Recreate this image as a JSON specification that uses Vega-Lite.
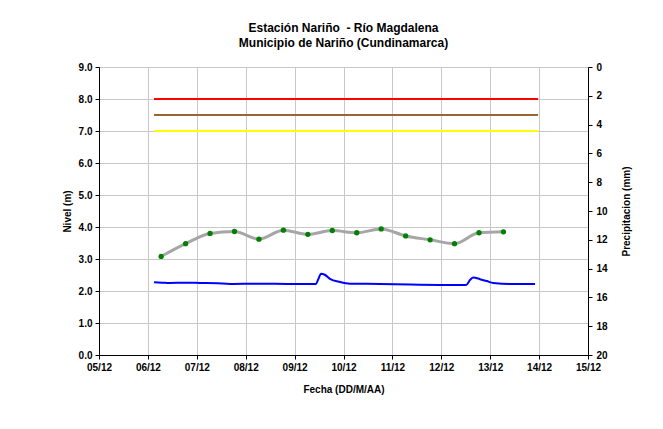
{
  "$schema": "https://vega.github.io/schema/vega-lite/v6.json",
  "width": 489,
  "height": 288,
  "autosize": {"type": "none"},
  "padding": {"left": 99, "top": 67, "right": 75, "bottom": 74},
  "background": "white",
  "config": {
    "view": {"stroke": null},
    "font": "Liberation Sans",
    "axis": {
      "labelFont": "Liberation Sans",
      "labelFontSize": 10,
      "labelFontWeight": "bold",
      "labelColor": "black",
      "titleFont": "Liberation Sans",
      "titleFontSize": 10,
      "titleFontWeight": "bold",
      "titleColor": "black",
      "domainColor": "black",
      "tickColor": "black",
      "tickSize": 4,
      "gridColor": "#c8c8c8",
      "gridWidth": 1
    }
  },
  "title": {
    "text": ["Estación Nariño\u00a0 - Río Magdalena", "Municipio de Nariño (Cundinamarca)"],
    "font": "Liberation Sans",
    "fontSize": 12,
    "fontWeight": "bold",
    "color": "black",
    "anchor": "middle",
    "lineHeight": 15,
    "offset": 12
  },
  "datasets": {
    "umbrales": [
      {"fecha": "2012-12-06T03:00:00", "fin": "2012-12-13T23:30:00", "nivel": 8.0, "tipo": "Roja"},
      {"fecha": "2012-12-06T03:00:00", "fin": "2012-12-13T23:30:00", "nivel": 7.5, "tipo": "Naranja"},
      {"fecha": "2012-12-06T03:00:00", "fin": "2012-12-13T23:30:00", "nivel": 7.0, "tipo": "Amarilla"}
    ],
    "lecturas": [
      {"fecha": "2012-12-06T06:30:00", "nivel": 3.08},
      {"fecha": "2012-12-06T18:30:00", "nivel": 3.48},
      {"fecha": "2012-12-07T06:30:00", "nivel": 3.80},
      {"fecha": "2012-12-07T18:30:00", "nivel": 3.86},
      {"fecha": "2012-12-08T06:30:00", "nivel": 3.62},
      {"fecha": "2012-12-08T18:30:00", "nivel": 3.90},
      {"fecha": "2012-12-09T06:30:00", "nivel": 3.77},
      {"fecha": "2012-12-09T18:30:00", "nivel": 3.89},
      {"fecha": "2012-12-10T06:30:00", "nivel": 3.82},
      {"fecha": "2012-12-10T18:30:00", "nivel": 3.94},
      {"fecha": "2012-12-11T06:30:00", "nivel": 3.72},
      {"fecha": "2012-12-11T18:30:00", "nivel": 3.60},
      {"fecha": "2012-12-12T06:30:00", "nivel": 3.48},
      {"fecha": "2012-12-12T18:30:00", "nivel": 3.82},
      {"fecha": "2012-12-13T06:30:00", "nivel": 3.85}
    ],
    "sensor": [
      {"fecha": "2012-12-06T03:00:00", "nivel": 2.27},
      {"fecha": "2012-12-06T07:00:00", "nivel": 2.26},
      {"fecha": "2012-12-06T10:50:00", "nivel": 2.25},
      {"fecha": "2012-12-06T18:00:00", "nivel": 2.26},
      {"fecha": "2012-12-07T01:40:00", "nivel": 2.25},
      {"fecha": "2012-12-07T10:00:00", "nivel": 2.24},
      {"fecha": "2012-12-07T16:20:00", "nivel": 2.22},
      {"fecha": "2012-12-08T07:00:00", "nivel": 2.23},
      {"fecha": "2012-12-08T21:50:00", "nivel": 2.22},
      {"fecha": "2012-12-09T10:30:00", "nivel": 2.22},
      {"fecha": "2012-12-09T11:30:00", "nivel": 2.35},
      {"fecha": "2012-12-09T13:00:00", "nivel": 2.54},
      {"fecha": "2012-12-09T15:00:00", "nivel": 2.50},
      {"fecha": "2012-12-09T17:20:00", "nivel": 2.38},
      {"fecha": "2012-12-09T22:20:00", "nivel": 2.28},
      {"fecha": "2012-12-10T03:10:00", "nivel": 2.23},
      {"fecha": "2012-12-10T18:00:00", "nivel": 2.22},
      {"fecha": "2012-12-11T08:40:00", "nivel": 2.20},
      {"fecha": "2012-12-11T23:20:00", "nivel": 2.19},
      {"fecha": "2012-12-12T12:10:00", "nivel": 2.19},
      {"fecha": "2012-12-12T14:10:00", "nivel": 2.35},
      {"fecha": "2012-12-12T15:40:00", "nivel": 2.42},
      {"fecha": "2012-12-12T19:00:00", "nivel": 2.37},
      {"fecha": "2012-12-12T22:20:00", "nivel": 2.31},
      {"fecha": "2012-12-13T01:30:00", "nivel": 2.25},
      {"fecha": "2012-12-13T09:40:00", "nivel": 2.22},
      {"fecha": "2012-12-13T22:00:00", "nivel": 2.22}
    ],
    "precipitacion": []
  },
  "layer": [
    {
      "encoding": {
        "x": {
          "field": "fecha",
          "type": "temporal",
          "scale": {"domain": [{"year": 2012, "month": 12, "date": 5}, {"year": 2012, "month": 12, "date": 15}]},
          "axis": {
            "title": "Fecha (DD/M/AA)",
            "format": "%d/%m",
            "tickCount": {"interval": "day", "step": 1},
            "labelAngle": 0,
            "labelOverlap": false,
            "labelFlush": false,
            "labelBound": false,
            "labelPadding": 3,
            "titlePadding": 12,
            "grid": true
          }
        },
        "y": {
          "field": "nivel",
          "type": "quantitative",
          "scale": {"domain": [0, 9], "nice": false, "zero": true},
          "axis": {
            "title": "Nivel (m)",
            "values": [0, 1, 2, 3, 4, 5, 6, 7, 8, 9],
            "format": ".1f",
            "grid": true,
            "labelPadding": 3,
            "titlePadding": 6
          }
        }
      },
      "layer": [
        {
          "data": {"name": "umbrales"},
          "mark": {"type": "rule", "strokeWidth": 2},
          "encoding": {
            "x2": {"field": "fin"},
            "color": {
              "field": "tipo",
              "type": "nominal",
              "scale": {"domain": ["Roja", "Naranja", "Amarilla"], "range": ["#ff0000", "#996633", "#ffff00"]},
              "legend": null
            }
          }
        },
        {
          "data": {"name": "lecturas"},
          "mark": {"type": "line", "color": "#a6a6a6", "strokeWidth": 3, "interpolate": "monotone"}
        },
        {
          "data": {"name": "lecturas"},
          "mark": {"type": "circle", "color": "#008000", "size": 28, "opacity": 1}
        },
        {
          "data": {"name": "sensor"},
          "mark": {"type": "line", "color": "#0000ff", "strokeWidth": 2, "interpolate": "monotone"}
        }
      ]
    },
    {
      "data": {"name": "precipitacion"},
      "mark": {"type": "rule"},
      "encoding": {
        "y": {
          "field": "precip",
          "type": "quantitative",
          "scale": {"domain": [0, 20], "reverse": true, "nice": false},
          "axis": {
            "orient": "right",
            "title": "Precipitacion (mm)",
            "titleAngle": 270,
            "values": [0, 2, 4, 6, 8, 10, 12, 14, 16, 18, 20],
            "grid": false,
            "labelPadding": 4,
            "titlePadding": 24
          }
        }
      }
    }
  ],
  "resolve": {"scale": {"y": "independent"}, "axis": {"y": "independent"}}
}
